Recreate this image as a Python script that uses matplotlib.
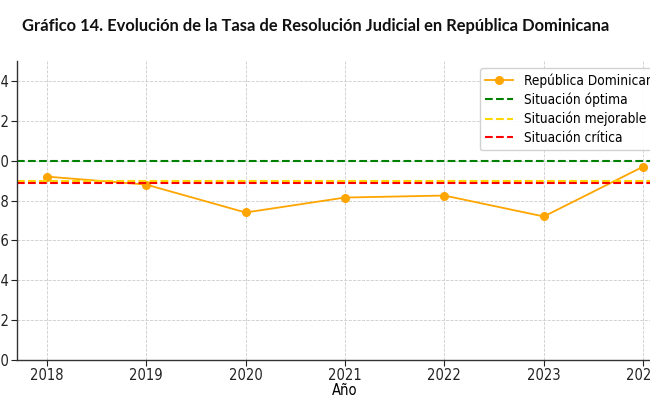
import matplotlib
matplotlib.use("Agg")
import matplotlib.pyplot as plt

years = [2018, 2019, 2020, 2021, 2022, 2023, 2024]
tasa = [0.92, 0.88, 0.74, 0.815, 0.825, 0.72, 0.97]
optima = 1.0
mejorable = 0.90
critica = 0.89
yticks = [0.0, 0.2, 0.4, 0.6, 0.8, 1.0, 1.2, 1.4]

W, H = 650, 395
fig = plt.figure(figsize=(W / 100, H / 100), dpi=100)
ax = fig.add_axes([17 / W, 35 / H, 656 / W, 299 / H])

ax.plot(years, tasa, color="orange", marker="o", markersize=5.5, linewidth=1.3,
        label="República Dominicana")
ax.axhline(optima, color="green", linestyle="--", linewidth=1.5, label="Situación óptima")
ax.axhline(mejorable, color="gold", linestyle="--", linewidth=1.5, label="Situación mejorable")
ax.axhline(critica, color="red", linestyle="--", linewidth=1.5, label="Situación crítica")

ax.set_xlim(2017.7, 2024.3)
ax.set_ylim(0, 1.5)
ax.set_xticks(years)
ax.set_yticks(yticks)
ax.set_yticklabels([f"{v:.1f}" for v in yticks])
ax.tick_params(labelsize=10.5, colors="#222222", length=4, width=0.8, pad=1.5)
for lab in ax.get_xticklabels() + ax.get_yticklabels():
    lab.set_fontstretch("condensed")
ax.grid(True, linestyle="--", color="#cccccc", linewidth=0.6)
ax.set_axisbelow(True)
for s in ["top", "right"]:
    ax.spines[s].set_visible(False)
for s in ["left", "bottom"]:
    ax.spines[s].set_color("#333333")
    ax.spines[s].set_linewidth(1.0)
ax.set_xlabel("Año", fontsize=10.5, labelpad=0, fontstretch="condensed")

ax.legend(loc="upper right", prop={"size": 9.8, "stretch": "condensed"},
          framealpha=0.9, borderaxespad=0.5, labelspacing=0.35)

fig.text(22 / W, 1 - 31 / H, "Gráfico 14. Evolución de la Tasa de Resolución Judicial en República Dominicana",
         fontsize=11.9, fontweight="bold", family=["Lato", "DejaVu Sans"],
         va="baseline", ha="left", color="#111111")

fig.savefig("out.png", dpi=100)
